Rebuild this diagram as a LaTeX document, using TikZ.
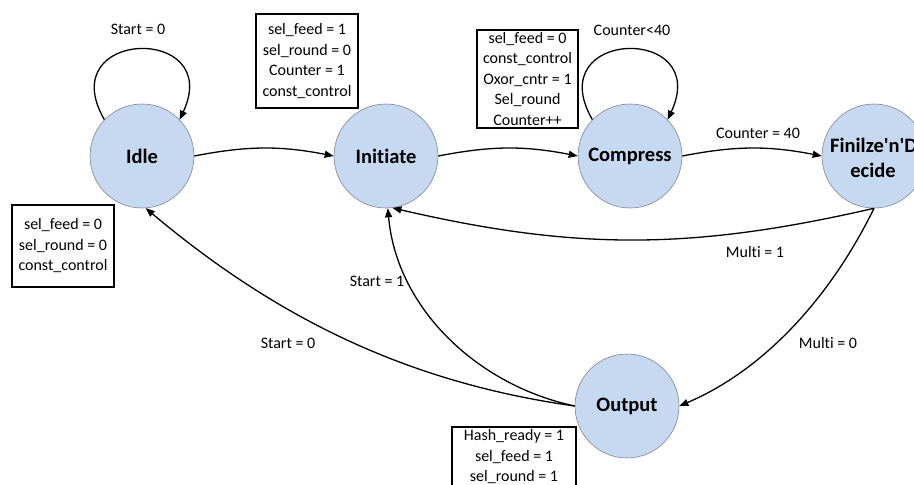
\documentclass[tikz,border=0pt]{standalone}
\usepackage{fontspec}
\setmainfont{Carlito}[Ligatures=NoCommon]
\usetikzlibrary{arrows.meta}
\definecolor{statefill}{RGB}{198,217,241}
\definecolor{stateline}{RGB}{125,135,150}
\begin{document}
\begin{tikzpicture}[x=1pt,y=1pt,
  state/.style={circle, fill=statefill, draw=stateline, line width=0.6pt,
    minimum size=104pt, inner sep=0pt, align=center,
    font=\fontsize{20.5}{25}\selectfont\bfseries},
  actbox/.style={draw=black, line width=2pt, fill=white, align=center,
    inner sep=0pt, font=\fontsize{16}{20.5}\selectfont},
  guard/.style={inner sep=0pt, font=\fontsize{16}{20}\selectfont},
  arr/.style={-{Triangle[length=9pt,width=7pt]}, line width=1.3pt}]
\clip (0,0) rectangle (914,-485);
\fill[white] (0,0) rectangle (914,-485);

% states
\node[state] (Idle)     at (142,-156) {Idle};
\node[state] (Initiate) at (386,-156) {Initiate};
\node[state] (Compress) at (630,-156) {Compress};
\node[state] (Fin)      at (874,-156) {};
\node[inner sep=0pt, anchor=west, font=\fontsize{20.5}{25}\selectfont\bfseries]
  (FinA) at (830,-145) {Finilze\textquotesingle n\textquotesingle D};
\node[inner sep=0pt, font=\fontsize{20.5}{25}\selectfont\bfseries]
  (FinB) at (873,-170) {ecide};
\node[state] (Output)   at (627,-406) {Output};

% actions of each state
\node[actbox, minimum width=102pt, minimum height=94pt] (aInit) at (307,-61)
  {sel\_feed = 1\\sel\_round = 0\\Counter = 1\\const\_control};
\node[actbox, minimum width=102pt, minimum height=82pt] (aIdle) at (63,-246)
  {sel\_feed = 0\\sel\_round = 0\\const\_control};
\node[actbox, minimum width=101pt, minimum height=98pt] (aComp) at (527.5,-79)
  {sel\_feed = 0\\const\_control\\Oxor\_cntr = 1\\Sel\_round\\Counter++};
\node[actbox, minimum width=124pt, minimum height=60pt] (aOut) at (514,-457)
  {Hash\_ready = 1\\sel\_feed = 1\\sel\_round = 1};

% transitions
\draw[arr] (Idle.136) to[out=120, in=65, looseness=3.6] (Idle.44);
\draw[arr] (Compress.136) to[out=120, in=65, looseness=3.6] (Compress.44);
\draw[arr] (Idle.east) to[bend left=11] (Initiate.west);
\draw[arr] (Initiate.east) to[bend left=11] (Compress.west);
\draw[arr] (Compress.east) to[bend left=11] (Fin.west);
\draw[arr] (Fin.south) to[bend left=13] (Initiate.-83);
\draw[arr] (Fin.south) to[out=244, in=23, distance=95pt] (Output.east);
\draw[arr] (Output.west) to[out=168, in=-85, distance=100pt] (Initiate.-88);
\draw[arr] (Output.west) to[out=172, in=-40, distance=170pt] (Idle.-86);

% guards
\node[guard] (gIdle) at (138,-29)  {Start = 0};
\node[guard] (gComp) at (632,-30)  {Counter<40};
\node[guard] (g40)   at (758,-133) {Counter = 40};
\node[guard] (gM1)   at (755,-252) {Multi = 1};
\node[guard] (gM0)   at (828,-343) {Multi = 0};
\node[guard] (gS1)   at (377,-281) {Start = 1};
\node[guard] (gS0)   at (288,-343) {Start = 0};
\end{tikzpicture}
\end{document}
